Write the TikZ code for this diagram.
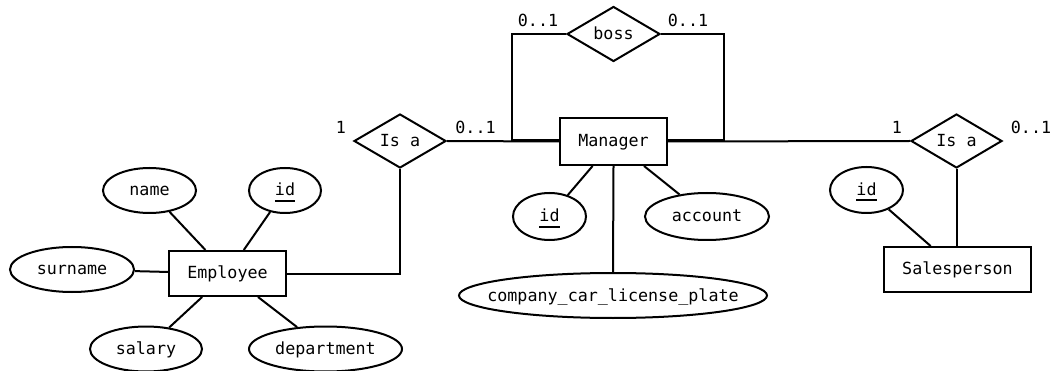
\documentclass[tikz,border=0pt]{standalone}
\usepackage{fontspec}
\setmainfont{DejaVu Sans Mono}
\usetikzlibrary{shapes.geometric}

% underlined key attribute
\newlength\keyw
\newcommand\keyattr[1]{\settowidth\keyw{#1}\rlap{\smash{\rule[-6pt]{\keyw}{2pt}}}#1}
% text of fixed-size nodes, kept out of the shape size
\newcommand\ctr[1]{\makebox[0pt]{#1}}

\begin{document}
\begin{tikzpicture}[x=1pt,y=-1pt,
  line width=2pt,
  every node/.style={font=\fontsize{16.7}{20}\selectfont},
  entity/.style={draw, rectangle, inner sep=0pt, text height=12pt, text depth=1pt},
  attr/.style={draw, ellipse, inner sep=0pt, text height=12pt, text depth=1pt},
  rel/.style={draw, diamond, inner sep=0pt, text height=12pt, text depth=1pt},
  card/.style={anchor=base, inner sep=0pt}
]
\useasboundingbox (0,0) rectangle (1054,371);

% entities
\node[entity, minimum width=107pt, minimum height=47pt] (mgr) at (613.5,141.5) {Manager};
\node[entity, minimum width=117pt, minimum height=45pt] (emp) at (227.5,273.5) {Employee};
\node[entity, minimum width=147pt, minimum height=45pt] (sp) at (957.5,269.5) {Salesperson};

% relationships
\node[rel, minimum width=93pt, minimum height=55pt] (boss) at (613.5,34) {\ctr{boss}};
\node[rel, minimum width=92pt, minimum height=54pt] (isa1) at (400,141) {\ctr{Is a}};
\node[rel, minimum width=91pt, minimum height=54pt] (isa2) at (956.5,141) {\ctr{Is a}};

% attributes of Employee
\node[attr, minimum width=93pt, minimum height=45pt] (name) at (149.5,190.5) {\ctr{name}};
\node[attr, minimum width=72pt, minimum height=45pt] (eid) at (285,190.5) {\ctr{\keyattr{id}}};
\node[attr, minimum width=124pt, minimum height=45pt] (surname) at (72,269.5) {\ctr{surname}};
\node[attr, minimum width=112pt, minimum height=45pt] (salary) at (146,349) {\ctr{salary}};
\node[attr, minimum width=153pt, minimum height=45pt] (dept) at (325.5,349) {\ctr{department}};

% attributes of Manager
\node[attr, minimum width=73pt, minimum height=47pt] (mid) at (549.5,216.5) {\ctr{\keyattr{id}}};
\node[attr, minimum width=124pt, minimum height=47pt] (account) at (707,216.5) {\ctr{account}};
\node[attr, minimum width=308pt, minimum height=45pt] (car) at (613,295.5) {\ctr{company\_car\_license\_plate}};

% attribute of Salesperson
\node[attr, minimum width=73pt, minimum height=46pt] (sid) at (866.5,190) {\ctr{\keyattr{id}}};

% attribute links
\draw (name) -- (emp);
\draw (eid) -- (emp);
\draw (surname) -- (emp);
\draw (salary) -- (emp);
\draw (dept) -- (emp);
\draw (mid) -- (mgr);
\draw (account) -- (mgr);
\draw (mgr.south) -- (car.north);
\draw (sid) -- (sp);

% boss self-relationship
\coordinate (bl) at (512,140);
\coordinate (br) at (724,140);
\draw (boss.west) -| (bl) -- (bl -| mgr.west);
\draw (boss.east) -| (br) -- (br -| mgr.east);

% specialisations
\draw (isa1.east) -- (mgr.west);
\draw (emp.east) -| (isa1.south);
\draw (mgr.east) -- (isa2.west);
\draw (isa2.south) -- (isa2.south |- sp.north);

% cardinalities
\node[card] (c1) at (538,27) {0..1};
\node[card] (c2) at (688,27) {0..1};
\node[card] (c3) at (341,134) {1};
\node[card] (c4) at (475.5,134) {0..1};
\node[card] (c5) at (897,134) {1};
\node[card] (c6) at (1031,134) {0..1};
\end{tikzpicture}
\end{document}
